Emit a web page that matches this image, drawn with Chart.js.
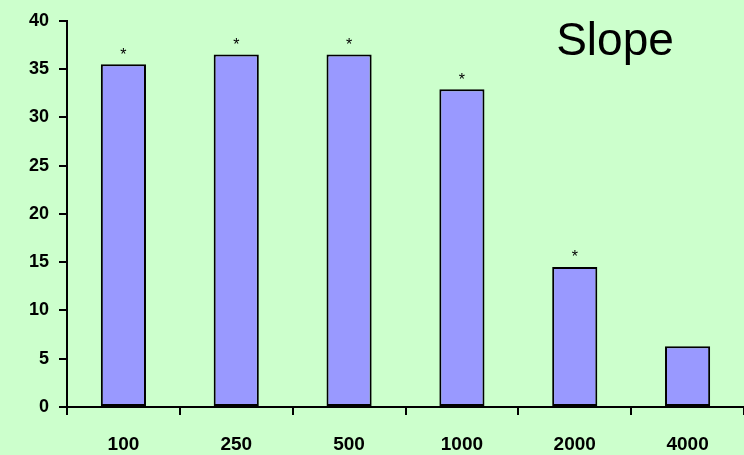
<!DOCTYPE html>
<html>
<head>
<meta charset="utf-8">
<script src="https://cdn.jsdelivr.net/npm/chart.js@4/dist/chart.umd.min.js"></script>
<style>
  html, body { margin: 0; padding: 0; background: #ccffcc; }
  #wrap { width: 744px; height: 455px; }
</style>
</head>
<body>
<div id="wrap"><canvas id="myChart"></canvas></div>
<script>
const categories = ['100', '250', '500', '1000', '2000', '4000'];
const slopeValues = [35.5, 36.5, 36.5, 32.9, 14.5, 6.3];
const sigMarks = ['*', '*', '*', '*', '*', ''];
const yTicks = [0, 5, 10, 15, 20, 25, 30, 35, 40];

const font = "Arial, 'Liberation Sans', sans-serif";

// background + title + asterisks
const extras = {
  id: 'extras',
  beforeDraw(chart) {
    const c = chart.ctx;
    c.save();
    c.fillStyle = '#ccffcc';
    c.fillRect(0, 0, chart.width, chart.height);
    c.restore();
  },
  afterDatasetsDraw(chart) {
    const c = chart.ctx;
    const meta = chart.getDatasetMeta(0);
    c.save();
    c.fillStyle = '#000';
    c.textAlign = 'center';
    c.textBaseline = 'bottom';
    c.font = '16px ' + font;
    meta.data.forEach((bar, i) => {
      if (sigMarks[i]) c.fillText(sigMarks[i], bar.x, bar.y - 1);
    });
    c.font = '46px ' + font;
    c.textBaseline = 'alphabetic';
    c.fillText('Slope', 615, 55);
    c.restore();
  }
};

const ctx = document.getElementById('myChart');
new Chart(ctx, {
  type: 'bar',
  data: {
    labels: categories,
    datasets: [{
      label: 'Slope',
      data: slopeValues,
      backgroundColor: '#9999ff',
      borderColor: '#000',
      borderWidth: 2,
      borderSkipped: false,
      categoryPercentage: 1,
      barPercentage: 0.4
    }]
  },
  options: {
    responsive: true,
    maintainAspectRatio: false,
    animation: false,
    layout: { padding: { left: 0, right: 0, top: 18, bottom: 0 } },
    plugins: { legend: { display: false }, tooltip: { enabled: false } },
    scales: {
      x: {
        grid: { drawOnChartArea: false, drawTicks: true, tickLength: 8, color: '#000', lineWidth: 2, offset: true },
        border: { display: true, color: '#000', width: 2 },
        ticks: { color: '#000', font: { family: font, size: 19, weight: 'bold' }, padding: 18, maxRotation: 0 },
        afterFit(s) { s.height = 48; }
      },
      y: {
        min: 0,
        max: 40,
        afterBuildTicks(s) { s.ticks = yTicks.map(v => ({ value: v })); },
        grid: { drawOnChartArea: false, drawTicks: true, tickLength: 8, color: '#000', lineWidth: 2 },
        border: { display: true, color: '#000', width: 2 },
        ticks: { color: '#000', font: { family: font, size: 18, weight: 'bold' }, padding: 10 },
        afterFit(s) { s.width = 67; }
      }
    }
  },
  plugins: [extras]
});
</script>
</body>
</html>
